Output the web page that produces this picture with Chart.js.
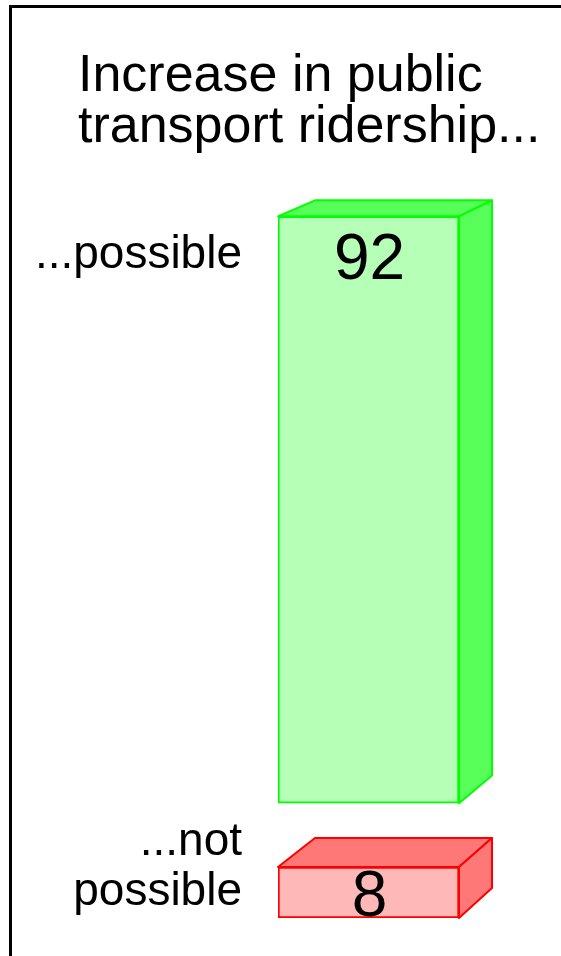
<!DOCTYPE html>
<html>
<head>
<meta charset="utf-8">
<title>Increase in public transport ridership</title>
<script src="https://cdn.jsdelivr.net/npm/chart.js@4"></script>
<style>
  html, body { margin: 0; padding: 0; background: #fff; }
  #wrap { width: 561px; height: 956px; position: relative; }
</style>
</head>
<body>
<div id="wrap"><canvas id="ridershipChart"></canvas></div>
<script>
  const titleLines = ['Increase in public', 'transport ridership...'];
  const answers = ['...possible', '...not possible'];
  const answerLines = [['...possible'], ['...not', 'possible']];
  const shares = [92, 8];   // percent of respondents
  const frontColors = ['#b6ffb6', '#ffb8b8'];
  const sideColors = ['#58ff58', '#ff7878'];
  const edgeColors = ['#00ff00', '#ff0000'];

  const GAP = 10; // empty space between the blocks, in value units
  const FONT = '"Liberation Sans", Arial, Helvetica, sans-serif';

  // blocks are piled bottom-up: last answer sits at the bottom
  const ranges = [];
  let base = 0;
  for (let i = shares.length - 1; i >= 0; i--) {
    ranges[i] = [base, base + shares[i]];
    base += shares[i] + GAP;
  }

  // the 3d depth gets a bit deeper further down the page
  const depth = y => 16 + (y - 216) * 0.02;

  const blockPlugin = {
    id: 'blocks',
    beforeDraw(chart) {
      const ctx = chart.ctx;
      ctx.save();
      ctx.fillStyle = '#000';
      ctx.fillRect(9, 5, 3, chart.height - 5);
      ctx.fillRect(9, 5, chart.width - 9, 3);
      ctx.font = '52px ' + FONT;
      ctx.textBaseline = 'alphabetic';
      titleLines.forEach((t, i) => ctx.fillText(t, 78, 91 + i * 51));
      ctx.restore();
    },
    afterDatasetsDraw(chart) {
      const ctx = chart.ctx;
      chart.data.datasets.forEach((ds, i) => {
        const bar = chart.getDatasetMeta(i).data[0];
        const { x, y, base, width } = bar.getProps(['x', 'y', 'base', 'width'], true);
        const l = x - width / 2, r = x + width / 2;
        const top = Math.min(y, base), bot = Math.max(y, base);
        const dt = depth(top), db = depth(bot);

        ctx.save();
        ctx.lineWidth = 2;
        ctx.lineJoin = 'round';
        ctx.fillStyle = sideColors[i];
        ctx.strokeStyle = edgeColors[i];
        // top face
        ctx.beginPath();
        ctx.moveTo(l, top);
        ctx.lineTo(l + 37, top - dt);
        ctx.lineTo(r + 33, top - dt);
        ctx.lineTo(r, top);
        ctx.closePath();
        ctx.fill(); ctx.stroke();
        // side face
        ctx.beginPath();
        ctx.moveTo(r, top);
        ctx.lineTo(r + 33, top - dt);
        ctx.lineTo(r + 33, bot - db);
        ctx.lineTo(r, bot);
        ctx.closePath();
        ctx.fill(); ctx.stroke();

        // value inside the block, answer text to the left
        const vy = (bot - top > 120) ? top + 63 : bot - 2;
        ctx.fillStyle = '#000';
        ctx.textBaseline = 'alphabetic';
        ctx.textAlign = 'center';
        ctx.font = '64px ' + FONT;
        ctx.fillText(String(shares[i]), x + 1, vy);
        ctx.textAlign = 'right';
        ctx.font = '46px ' + FONT;
        const lines = answerLines[i];
        lines.forEach((t, k) => ctx.fillText(t, 242, vy - 11 - (lines.length - 1 - k) * 50));
        ctx.restore();
      });
    }
  };

  const ctx = document.getElementById('ridershipChart').getContext('2d');
  new Chart(ctx, {
    type: 'bar',
    data: {
      labels: ['ridership'],
      datasets: shares.map((v, i) => ({
        label: answers[i],
        data: [ranges[i]],
        backgroundColor: frontColors[i],
        borderColor: edgeColors[i],
        borderWidth: 2,
        borderSkipped: false,
        grouped: false,
        barPercentage: 1,
        categoryPercentage: 1
      }))
    },
    options: {
      responsive: true,
      maintainAspectRatio: false,
      animation: false,
      layout: { padding: { left: 278, right: 102, top: 25, bottom: 38 } },
      plugins: {
        legend: { display: false },
        tooltip: { enabled: false },
        title: { display: false }
      },
      scales: {
        x: { display: false, offset: true },
        y: { display: false, min: 0, max: 140 }
      }
    },
    plugins: [blockPlugin]
  });
</script>
</body>
</html>
